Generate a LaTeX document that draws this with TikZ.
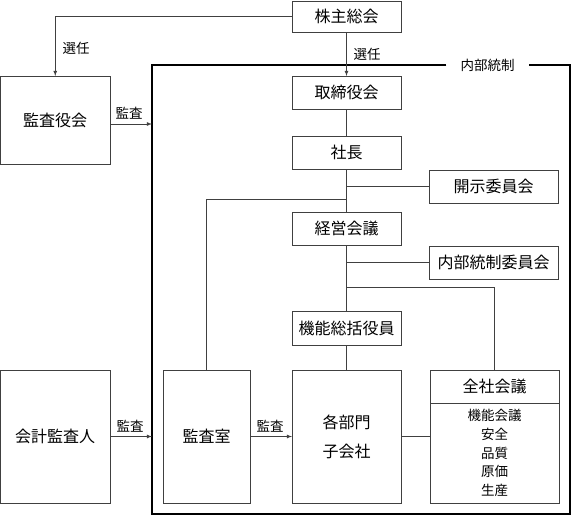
\documentclass[tikz,border=0pt]{standalone}
\usepackage{fontspec}
\setmainfont{Noto Sans CJK JP}
\usetikzlibrary{calc,arrows}

\begin{document}
\begin{tikzpicture}[x=1pt,y=-1pt,
  box/.style={draw=black!75,line width=0.8pt,inner sep=0pt,outer sep=0pt,
    font=\fontsize{16}{20}\selectfont},
  lbl/.style={font=\fontsize{13.5}{16}\selectfont,inner sep=1pt},
  wire/.style={draw=black!75,line width=0.8pt},
  arr/.style={wire,-latex}]

\useasboundingbox (0,0) rectangle (571,515);

% Drawing the main column
\node[box,minimum width=109,minimum height=31] (agm) at (346.5,16.5) {株主総会};
\node[box,minimum width=109,minimum height=33] (board) at (346.5,92.5) {取締役会};
\node[box,minimum width=109,minimum height=33] (pres) at (346.5,152.5) {社長};
\node[box,minimum width=109,minimum height=33] (mgmt) at (346.5,228.5) {経営会議};
\node[box,minimum width=109,minimum height=34] (func) at (346.5,328) {機能総括役員};
\node[box,minimum width=109,minimum height=133,align=center] (depts) at (346.5,436.5)
  {各部門\\[9pt]子会社};

% Drawing committees
\node[box,minimum width=129,minimum height=33] (disclose) at (493.5,186.5) {開示委員会};
\node[box,minimum width=129,minimum height=33] (icc) at (493.5,262.5) {内部統制委員会};
\node[box,minimum width=129,minimum height=33] (allhead) at (494.5,386.5) {全社会議};
\node[box,minimum width=129,minimum height=100,align=center,
  font=\fontsize{13.5}{18.8}\selectfont] (alllist) at (494.5,453)
  {機能会議\\安全\\品質\\原価\\生産};

% Drawing auditors
\node[box,minimum width=109.5,minimum height=88] (kansayaku) at (55.25,120) {監査役会};
\node[box,minimum width=109.5,minimum height=133] (kaikei) at (55.25,436.5) {会計監査人};
\node[box,minimum width=87,minimum height=133] (kansashitsu) at (206.5,436.5) {監査室};

% Drawing internal control frame
\node[lbl,inner xsep=14pt] (ictl) at (487.5,65) {内部統制};
\coordinate (fbl) at (152,514);
\coordinate (ftr) at (570,65);
\draw[line width=1.6pt] (ictl.west) -| (fbl) -| (ftr) -- (ictl.east);

% Connecting election
\draw[arr] (agm.west) -| (kansayaku.north);
\node[lbl] (sen1) at (76,48) {選任};
\draw[arr] (agm.south) -- (board.north);
\node[lbl] (sen2) at (367,54) {選任};

% Connecting the main column
\draw[wire] (board.south) -- (pres.north);
\draw[wire] (pres.south) -- (mgmt.north);
\draw[wire] (mgmt.south) -- (func.north);
\draw[wire] (func.south) -- (depts.north);

% Connecting branches
\coordinate (j1) at (pres.south |- disclose.west);
\coordinate (j2) at (346.5,199);
\coordinate (j3) at (mgmt.south |- icc.west);
\coordinate (j4) at (346.5,287);
\draw[wire] (j1) -- (disclose.west);
\draw[wire] (j2) -| (kansashitsu.north);
\draw[wire] (j3) -- (icc.west);
\draw[wire] (j4) -| (allhead.north);
\draw[wire] (depts.east) -- (depts.east -| alllist.west);

% Connecting audits
\draw[arr] ([yshift=-4pt]kansayaku.east) -- ([yshift=-4pt]kansayaku.east -| fbl);
\node[lbl] (kan1) at (129,113) {監査};
\draw[arr] (kaikei.east) -- (kaikei.east -| fbl);
\node[lbl] (kan2) at (130,426) {監査};
\draw[arr] (kansashitsu.east) -- (depts.west);
\node[lbl] (kan3) at (270,426) {監査};

\end{tikzpicture}
\end{document}
